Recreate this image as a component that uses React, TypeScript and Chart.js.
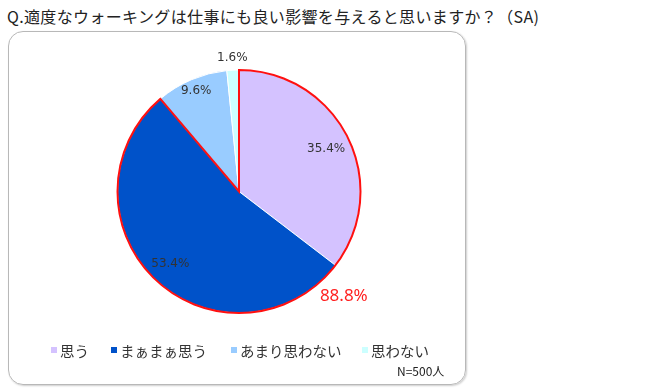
import React, { useEffect, useRef } from "react";
import { Chart, registerables } from "chart.js";

Chart.register(...registerables);

const TITLE = "Q.適度なウォーキングは仕事にも良い影響を与えると思いますか？（SA)";
const CATEGORIES = ["思う", "まぁまぁ思う", "あまり思わない", "思わない"];
const VALUES = [35.4, 53.4, 9.6, 1.6];
const COLORS = ["#d4c2ff", "#0052c9", "#99ccff", "#ccffff"];
const HIGHLIGHT_LABEL = "88.8%";
const SAMPLE_NOTE = "N=500人";

const LABEL_RADIUS = [0.8, 0.82, 0.9, 1.1];
const LEGEND_LEFT = [51, 111, 231, 362];

const overlayPlugin = {
  id: "overlay",
  afterDatasetsDraw(chart: any) {
    const meta = chart.getDatasetMeta(0);
    const arcs = meta.data;
    if (!arcs || arcs.length < 2) return;
    const ctx = chart.ctx as CanvasRenderingContext2D;
    const a0 = arcs[0] as any;
    const a1 = arcs[1] as any;
    const cx = a0.x, cy = a0.y, r = a0.outerRadius;
    // red outline around the first two slices
    ctx.save();
    ctx.beginPath();
    ctx.moveTo(cx, cy);
    ctx.lineTo(cx + Math.cos(a0.startAngle) * r, cy + Math.sin(a0.startAngle) * r);
    ctx.arc(cx, cy, r, a0.startAngle, a1.endAngle);
    ctx.closePath();
    ctx.strokeStyle = "#ff1010";
    ctx.lineWidth = 2;
    ctx.lineJoin = "miter";
    ctx.stroke();
    ctx.restore();

    // value labels
    ctx.save();
    ctx.font = "12px 'DejaVu Sans', sans-serif";
    ctx.fillStyle = "#333333";
    ctx.textAlign = "center";
    ctx.textBaseline = "middle";
    arcs.forEach((arc: any, i: number) => {
      const mid = (arc.startAngle + arc.endAngle) / 2;
      const rr = r * LABEL_RADIUS[i];
      const x = cx + Math.cos(mid) * rr;
      const y = cy + Math.sin(mid) * rr;
      ctx.fillText(VALUES[i].toFixed(1) + "%", x, y);
    });
    ctx.restore();

    // highlight total label
    ctx.save();
    ctx.font = "17px 'Noto Sans', sans-serif";
    ctx.fillStyle = "#ff2020";
    ctx.textAlign = "center";
    ctx.textBaseline = "middle";
    const ang = Math.PI / 4;
    ctx.fillText(HIGHLIGHT_LABEL, cx + Math.cos(ang) * r * 1.22, cy + Math.sin(ang) * r * 1.22);
    ctx.restore();
  },
};

export default function App() {
  const ref = useRef<HTMLCanvasElement | null>(null);
  useEffect(() => {
    if (!ref.current) return;
    const chart = new Chart(ref.current, {
      type: "pie",
      data: {
        labels: CATEGORIES,
        datasets: [
          {
            data: VALUES,
            backgroundColor: COLORS,
            borderColor: "#ffffff",
            borderWidth: 1,
          },
        ],
      },
      options: {
        animation: false,
        responsive: false,
        maintainAspectRatio: false,
        layout: { padding: { left: 117, right: 289, top: 69, bottom: 78 } },
        plugins: {
          legend: { display: false },
          tooltip: { enabled: false },
          title: { display: false },
        },
      },
      plugins: [overlayPlugin],
    });
    return () => chart.destroy();
  }, []);

  const font = "'Noto Sans CJK JP', 'Noto Sans', sans-serif";
  return (
    <div style={{ position: "absolute", left: 0, top: 0, width: 650, height: 392, background: "#fff", fontFamily: font }}>
      <div style={{ position: "absolute", left: 7, top: 5, fontSize: 16, color: "#222", whiteSpace: "nowrap", lineHeight: "22px", letterSpacing: "0.35px" }}>
        {TITLE}
      </div>
      <div
        style={{
          position: "absolute",
          left: 8,
          top: 31,
          width: 458,
          height: 354,
          border: "1.5px solid #b8b8b8",
          borderRadius: 15,
          boxShadow: "1px 1px 2px rgba(0,0,0,0.2)",
          boxSizing: "border-box",
        }}
      />
      <canvas ref={ref} width={650} height={392} style={{ position: "absolute", left: 0, top: 0, width: 650, height: 392 }} />
      {CATEGORIES.map((c, i) => (
        <div
          key={c}
          style={{
            position: "absolute",
            left: LEGEND_LEFT[i],
            top: 340,
            height: 20,
            display: "flex",
            alignItems: "center",
            fontSize: 14.5,
            color: "#333",
            whiteSpace: "nowrap",
          }}
        >
          <span style={{ display: "inline-block", width: 6, height: 6, background: COLORS[i], marginRight: 3 }} />
          <span>{c}</span>
        </div>
      ))}
      <div style={{ position: "absolute", left: 397, top: 363, fontSize: 12, color: "#222", lineHeight: "16px", whiteSpace: "nowrap" }}>
        {SAMPLE_NOTE}
      </div>
    </div>
  );
}
